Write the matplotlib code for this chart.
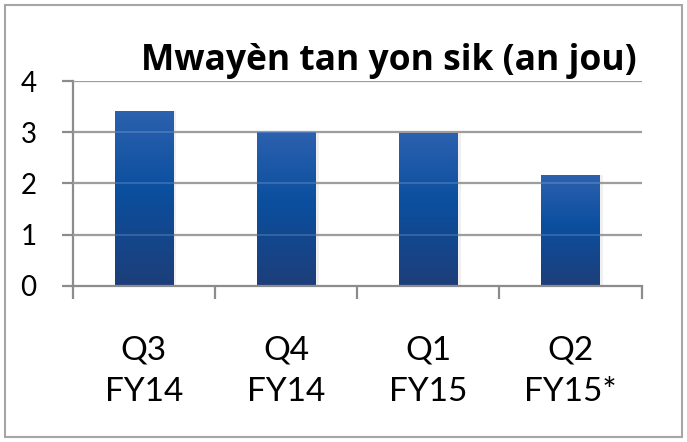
import numpy as np
import matplotlib.pyplot as plt
from matplotlib.colors import LinearSegmentedColormap
from matplotlib.patches import Rectangle

plt.rcParams['font.family'] = ['Lato', 'DejaVu Sans']

# data
categories = ['Q3\nFY14', 'Q4\nFY14', 'Q1\nFY15', 'Q2\nFY15*']
values = [3.41, 3.0, 2.98, 2.16]
yticks = [0, 1, 2, 3, 4]
title = 'Mwayèn tan yon sik (an jou)'

fig = plt.figure(figsize=(6.87, 4.42), dpi=100)
fig.patches.append(Rectangle((0.007, 0.011), 0.986, 0.978, transform=fig.transFigure,
                             fill=False, edgecolor='#a6a6a6', linewidth=1.5))

ax = fig.add_axes([0.1058, 0.353, 0.828, 0.4637])
x = np.arange(len(categories))
bars = ax.bar(x, values, width=0.41, color='none', zorder=2)

# vertical gradient inside each bar
cmap = LinearSegmentedColormap.from_list('blu', [(0, '#1d3e79'), (0.55, '#0b4f9f'), (1, '#2c61ae')])
grad = np.linspace(0, 1, 256).reshape(-1, 1)
for b in bars:
    x0, y0 = b.get_x(), b.get_y()
    w, h = b.get_width(), b.get_height()
    im = ax.imshow(grad, cmap=cmap, origin='lower', aspect='auto',
                   extent=[x0, x0 + w, y0, y0 + h], zorder=2)
    im.set_clip_path(b)
    # soft shadow on the right
    ax.add_patch(Rectangle((x0 + w, y0), 0.025, h, color='#000000', alpha=0.06, lw=0, zorder=1))

ax.set_xlim(-0.5, len(categories) - 0.5)
ax.set_ylim(0, 4)
ax.set_yticks(yticks)
ax.set_yticklabels([str(t) for t in yticks], fontsize=20)
for t in yticks[1:]:
    ax.axhline(t, color='#8c8c8c', lw=1.6, zorder=1)
    ax.axhline(t, color='white', lw=1.2, alpha=0.18, zorder=3)

ax.set_xticks(x)
ax.set_xticklabels(categories, fontsize=24, linespacing=1.45)
ax.set_xticks(np.arange(len(categories) + 1) - 0.5, minor=True)
ax.tick_params(axis='x', which='major', length=0, pad=36)
ax.tick_params(axis='x', which='minor', length=9, width=1.6, color='#8c8c8c', direction='out')
ax.tick_params(axis='y', length=8, width=1.6, color='#8c8c8c', pad=18)

for s in ['top', 'right']:
    ax.spines[s].set_visible(False)
for s in ['left', 'bottom']:
    ax.spines[s].set_color('#8c8c8c')
    ax.spines[s].set_linewidth(1.6)

fig.text(0.5655, 0.863, title, fontsize=25.5, fontweight='bold', ha='center', va='center',
         family=['Open Sans', 'DejaVu Sans'])

fig.savefig('out.png', dpi=100)
